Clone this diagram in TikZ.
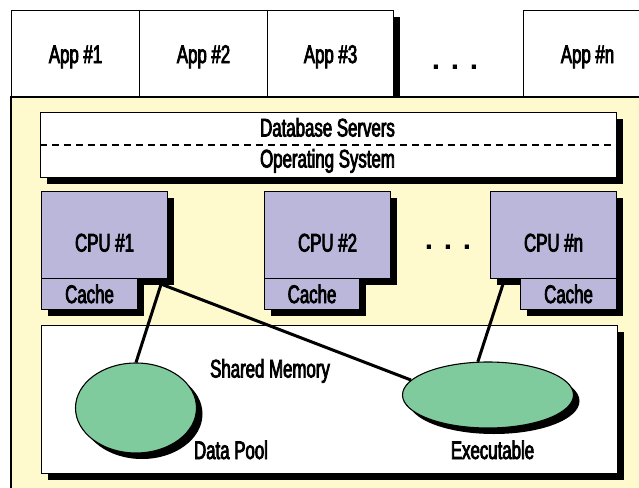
\documentclass[tikz,border=0pt]{standalone}
\usepackage{fontspec}
\setmainfont{Liberation Sans}[FakeStretch=0.66, FakeBold=3]
\newfontfamily\dotfont{Liberation Sans}
\usetikzlibrary{shapes.geometric,shadows,calc}
\definecolor{bgyellow}{RGB}{255,250,206}
\definecolor{cpufill}{RGB}{187,183,219}
\definecolor{poolfill}{RGB}{128,203,157}
\tikzset{
  shadowed/.style={drop shadow={shadow xshift=6pt, shadow yshift=-6pt, fill=black, opacity=1}},
  panel/.style={draw, fill=white, line width=1.1pt, inner sep=0pt, anchor=north west,
                text height=18pt, text depth=0pt, shadowed},
  appbox/.style={panel, minimum width=128pt, minimum height=87pt},
  cpubox/.style={panel, fill=cpufill, minimum width=126pt, minimum height=87pt, text height=33pt},
  cachebox/.style={panel, fill=cpufill, minimum width=96pt, minimum height=31pt},
  txt/.style={inner sep=0pt, text height=18pt, text depth=0pt},
  dots/.style={inner sep=0pt, anchor=base, font=\dotfont\bfseries\fontsize{30}{30}\selectfont},
  blob/.style={ellipse, draw, fill=poolfill, line width=1.1pt, inner sep=0pt, shadowed},
  wire/.style={line width=3pt},
  divider/.style={line width=2pt, dash pattern=on 7pt off 5pt}
}
\begin{document}
\begin{tikzpicture}[x=1pt, y=-1pt, font=\fontsize{25.5}{30}\selectfont, line width=1.1pt]
  \useasboundingbox (0,0) rectangle (639,487);
  \fill[white] (0,0) rectangle (639,487);

  % application row
  \node[appbox] (app1) at (11,10) {App \#1};
  \node[appbox] (app2) at (139,10) {App \#2};
  \node[appbox, minimum width=126pt] (app3) at (267,10) {App \#3};
  \node[dots] (topdots) at (455,70) {.\hspace{10.7pt}.\hspace{10.7pt}.};
  \node[appbox] (appn) at (523,10) {App \#n};

  % server area
  \draw[fill=bgyellow] (11,97) rectangle (660,500);

  % database servers / operating system layer
  \node[panel, minimum width=576pt, minimum height=65pt] (db) at (40,112) {};
  \draw[divider] (db.west) -- (db.east);
  \node[txt] (dbtext) at (327.5,127.5) {Database Servers};
  \node[txt] (ostext) at (327.5,158.5) {Operating System};

  % processors with their caches
  \node[cpubox] (cpu1) at (41,191) {CPU \#1};
  \node[cachebox] (cache1) at (41,278) {Cache};
  \node[cpubox] (cpu2) at (264,191) {CPU \#2};
  \node[cachebox, minimum width=95pt] (cache2) at (264,278) {Cache};
  \node[dots] (middots) at (448,249) {.\hspace{10.7pt}.\hspace{10.7pt}.};
  \node[cpubox] (cpun) at (490,191) {CPU \#n};
  \node[cachebox] (cachen) at (520,278) {Cache};

  % shared memory with its two regions
  \node[panel, minimum width=576pt, minimum height=148pt] (mem) at (41,325) {};
  \node[txt] (memtext) at (270,368.5) {Shared Memory};
  \node[blob, minimum width=121pt, minimum height=90pt] (pool) at (136,408) {};
  \node[blob, minimum width=171pt, minimum height=66pt] (exe) at (488,395) {};
  \node[txt] (pooltext) at (231,450) {Data Pool};
  \node[txt] (exetext) at (492.5,450) {Executable};

  % links from the processors into memory
  \coordinate (j1) at ($(cpu1.south east)+(-7,5)$);
  \coordinate (jn) at ($(cpun.south west)+(13,5)$);
  \draw[wire] (j1) -- (pool.north);
  \draw[wire] (j1) -- (exe.169);
  \draw[wire] (jn) -- (exe.107);
\end{tikzpicture}
\end{document}
